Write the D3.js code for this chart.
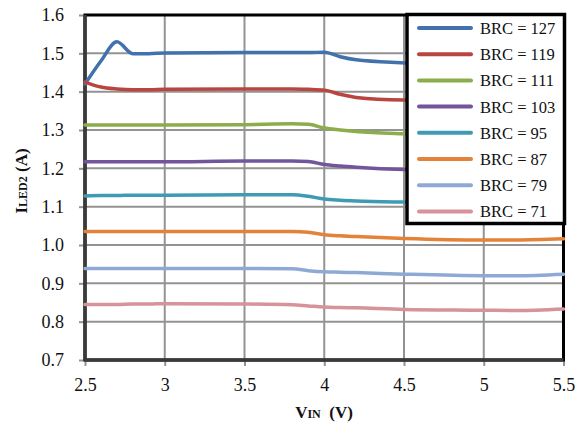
<!DOCTYPE html>
<html>
<head>
<meta charset="utf-8">
<script src="https://cdn.jsdelivr.net/npm/d3@7"></script>
<style>
  html, body { margin: 0; padding: 0; background: #fff; }
  svg { display: block; }
  text { font-family: "Liberation Serif", "Times New Roman", serif; fill: #111; }
</style>
</head>
<body>
<svg id="chart" width="586" height="428"></svg>
<script>
// ---- data ----
const vin = [2.5, 2.6, 2.7, 2.8, 2.9, 3.0, 3.5, 3.8, 3.9, 4.0, 4.1, 4.2, 4.5, 5.0, 5.2, 5.5];
const brc127 = [1.420, 1.480, 1.530, 1.499, 1.499, 1.501, 1.502, 1.502, 1.502, 1.503, 1.491, 1.483, 1.475, 1.468, 1.466, 1.464];
const brc119 = [1.425, 1.412, 1.407, 1.405, 1.405, 1.406, 1.407, 1.407, 1.406, 1.404, 1.393, 1.385, 1.378, 1.376, 1.376, 1.376];
const brc111 = [1.313, 1.313, 1.313, 1.313, 1.313, 1.313, 1.314, 1.316, 1.315, 1.305, 1.300, 1.296, 1.290, 1.286, 1.285, 1.284];
const brc103 = [1.217, 1.217, 1.217, 1.217, 1.217, 1.217, 1.219, 1.219, 1.218, 1.210, 1.206, 1.203, 1.197, 1.194, 1.193, 1.193];
const brc95  = [1.128, 1.129, 1.129, 1.130, 1.130, 1.130, 1.131, 1.131, 1.127, 1.120, 1.117, 1.115, 1.112, 1.110, 1.110, 1.109];
const brc87  = [1.035, 1.035, 1.035, 1.035, 1.035, 1.035, 1.035, 1.035, 1.033, 1.027, 1.024, 1.022, 1.017, 1.013, 1.013, 1.016];
const brc79  = [0.939, 0.939, 0.939, 0.939, 0.939, 0.939, 0.939, 0.938, 0.933, 0.930, 0.929, 0.928, 0.924, 0.920, 0.920, 0.924];
const brc71  = [0.845, 0.845, 0.845, 0.846, 0.846, 0.847, 0.846, 0.844, 0.841, 0.838, 0.837, 0.836, 0.832, 0.830, 0.829, 0.833];
const seriesNames = ["BRC = 127", "BRC = 119", "BRC = 111", "BRC = 103", "BRC = 95", "BRC = 87", "BRC = 79", "BRC = 71"];
const seriesValues = [brc127, brc119, brc111, brc103, brc95, brc87, brc79, brc71];
const colors = ["#4272ad", "#b8453f", "#8cad4b", "#72559a", "#3f9bb4", "#e3833a", "#8eaad4", "#d6939a"];
const xTicks = [2.5, 3, 3.5, 4, 4.5, 5, 5.5];
const yTicks = [0.7, 0.8, 0.9, 1.0, 1.1, 1.2, 1.3, 1.4, 1.5, 1.6];

// ---- layout ----
const svg = d3.select("#chart");
const mLeft = 85, mRight = 563.5, mTop = 15, mBottom = 360;
const x = d3.scaleLinear().domain([2.5, 5.5]).range([mLeft, mRight]);
const y = d3.scaleLinear().domain([0.7, 1.6]).range([mBottom, mTop]);

// gridlines
const grid = svg.append("g");
grid.selectAll("line.h").data(yTicks).join("line")
  .attr("x1", mLeft).attr("x2", mRight)
  .attr("y1", d => y(d)).attr("y2", d => y(d))
  .attr("stroke", "#939393").attr("stroke-width", 2);
grid.selectAll("line.v").data(xTicks).join("line")
  .attr("y1", mTop).attr("y2", mBottom)
  .attr("x1", d => x(d)).attr("x2", d => x(d))
  .attr("stroke", "#939393").attr("stroke-width", 2);

// axes
const yAxis = d3.axisLeft(y).tickValues(yTicks).tickFormat(d3.format(".1f")).tickSize(6).tickPadding(15);
const xAxis = d3.axisBottom(x).tickValues(xTicks).tickFormat(d => String(d)).tickSize(6).tickPadding(12);
const gy = svg.append("g").attr("transform", `translate(${mLeft},0)`).call(yAxis);
const gx = svg.append("g").attr("transform", `translate(0,${mBottom})`).call(xAxis);
[gy, gx].forEach(g => {
  g.select(".domain").remove();
  g.selectAll(".tick line").attr("stroke", "#939393").attr("stroke-width", 2);
  g.selectAll(".tick text").attr("font-family", "Liberation Serif, serif").attr("font-size", 18).attr("fill", "#111");
});

// plot frame
svg.append("rect").attr("x", mLeft).attr("y", mTop).attr("width", mRight - mLeft).attr("height", mBottom - mTop)
  .attr("fill", "none").attr("stroke", "#000").attr("stroke-width", 3);
svg.append("line").attr("x1", mLeft).attr("x2", mLeft).attr("y1", mTop).attr("y2", mBottom + 1)
  .attr("stroke", "#3a3a3a").attr("stroke-width", 3.5);
svg.append("line").attr("x1", mLeft).attr("x2", mRight).attr("y1", mBottom).attr("y2", mBottom)
  .attr("stroke", "#3a3a3a").attr("stroke-width", 3.5);

// lines
const line = d3.line().x((d, i) => x(vin[i])).y(d => y(d)).curve(d3.curveMonotoneX);
svg.append("g").selectAll("path").data(seriesValues).join("path")
  .attr("d", d => line(d))
  .attr("fill", "none")
  .attr("stroke", (d, i) => colors[i])
  .attr("stroke-width", 3.5)
  .attr("stroke-linecap", "round")
  .attr("stroke-linejoin", "round");

// legend
const lg = svg.append("g");
lg.append("rect").attr("x", 407).attr("y", 14.5).attr("width", 157.5).attr("height", 209)
  .attr("fill", "#fff").attr("stroke", "#000").attr("stroke-width", 3.5);
const items = lg.selectAll("g.item").data(seriesNames).join("g")
  .attr("transform", (d, i) => `translate(0,${28 + i * 26.2})`);
items.append("line").attr("x1", 419).attr("x2", 471).attr("y1", 0).attr("y2", 0)
  .attr("stroke", (d, i) => colors[i]).attr("stroke-width", 4).attr("stroke-linecap", "round");
items.append("text").attr("x", 480).attr("y", 6).attr("font-size", 16.5).text(d => d);

// axis titles
const yt = svg.append("text")
  .attr("transform", "translate(27,181) rotate(-90)")
  .attr("text-anchor", "middle").attr("font-weight", "bold");
yt.append("tspan").attr("font-size", 17).text("I");
yt.append("tspan").attr("font-size", 12).text("LED2");
yt.append("tspan").attr("font-size", 17).text(" (A)");

const xt = svg.append("text")
  .attr("x", 324).attr("y", 418)
  .attr("text-anchor", "middle").attr("font-weight", "bold");
xt.append("tspan").attr("font-size", 17).text("V");
xt.append("tspan").attr("font-size", 12).text("IN");
xt.append("tspan").attr("font-size", 17).text("\u00a0\u00a0(V)");
</script>
</body>
</html>
